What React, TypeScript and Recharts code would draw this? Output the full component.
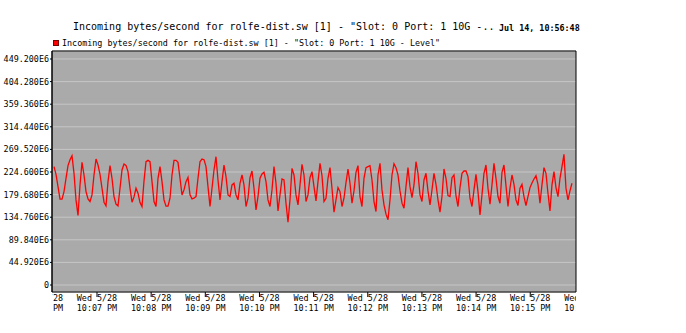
import { LineChart, Line, XAxis, YAxis, CartesianGrid, Legend, ReferenceLine } from 'recharts';

const TITLE = 'Incoming bytes/second for rolfe-dist.sw [1] - "Slot: 0 Port: 1 10G -..';
const STAMP = 'Jul 14, 10:56:48';
const SERIES_NAME = 'Incoming bytes/second for rolfe-dist.sw [1] - "Slot: 0 Port: 1 10G - Level"';
const DAY_LABEL = 'Wed 5/28';

// time axis in seconds after 22:00:00
const FIRST_SAMPLE = 372.37;
const SAMPLE_STEP = 2.2157;
const X_DOMAIN = [370.15, 950.7];
const X_TICKS = [360, 420, 480, 540, 600, 660, 720, 780, 840, 900, 960];

// values in units of 1E6 bytes/second
const Y_DOMAIN = [-13.9, 465.1];
const Y_TICKS = [0, 44.92, 89.84, 134.76, 179.68, 224.6, 269.52, 314.44, 359.36, 404.28, 449.2];

const bytesIn = [
  235.2, 220.0, 195.6, 170.5, 170.5, 185.7, 212.1, 237.2, 249.1, 257.0, 222.0, 169.2, 138.2, 198.9, 243.8, 218.7,
  185.7, 171.2, 165.9, 179.1, 218.7, 250.4, 238.5, 220.0, 192.3, 164.6, 157.3, 205.5, 237.2, 212.1, 175.8, 160.6,
  157.3, 192.3, 228.6, 240.5, 237.8, 225.3, 192.3, 164.6, 175.1, 192.3, 182.4, 163.9, 156.0, 206.8, 245.1, 247.7,
  245.1, 205.5, 165.9, 156.0,
  212.1, 235.2, 205.5, 169.2, 156.7, 156.7, 172.5, 218.7, 247.7, 247.7, 243.8, 212.1, 179.1, 189.0, 205.5, 214.1,
  179.1, 171.2, 172.5, 175.8, 212.1, 245.1, 250.4, 249.1, 235.2, 195.6, 156.0, 192.3, 228.6, 255.0, 208.8, 169.2,
  205.5, 238.5, 215.4, 179.1, 175.8, 198.9, 202.2, 179.1, 169.2, 202.2, 218.7, 198.9, 156.0, 172.5, 213.4, 226.6,
  192.3, 149.4, 175.8, 212.1, 220.7,
  224.0, 205.5, 169.2, 156.0, 189.0, 235.2, 202.2, 147.4, 179.1, 210.8, 208.8, 162.6, 125.0, 169.2, 231.9, 218.7,
  179.1, 159.3, 198.9, 239.8, 218.7, 165.9, 179.1, 213.4, 225.3, 195.6, 167.2, 205.5, 241.8, 217.4, 165.9, 172.5,
  212.1, 233.2, 192.3, 144.8, 169.2, 193.6, 185.7, 156.0, 172.5, 203.5, 230.6, 202.2, 162.6, 187.0, 224.0, 237.2,
  175.8, 156.0, 212.1, 233.2,
  235.2, 237.2, 208.8, 165.9, 146.1, 218.7, 241.8, 189.0, 159.3, 140.8, 129.6, 169.2, 218.7, 241.1, 233.2, 218.7,
  187.0, 162.6, 152.7, 195.6, 233.2, 195.6, 173.8, 198.9, 245.1, 222.0, 179.1, 165.9, 208.8, 222.0, 187.0, 159.3,
  189.0, 222.0, 200.2, 169.2, 144.8, 175.8, 230.6, 212.1, 177.8, 175.8, 213.4, 218.7, 177.8, 156.0, 193.6, 222.0,
  226.6, 226.6, 215.4, 172.5, 156.0,
  189.0, 220.0, 185.7, 139.5, 179.1, 222.0, 238.5, 192.3, 160.6, 198.9, 241.8, 212.1, 175.8, 162.6, 224.0, 238.5,
  197.6, 156.0, 192.3, 218.7, 200.2, 169.2, 158.0, 192.3, 200.2, 175.8, 158.0, 175.8, 193.6, 202.9, 210.8, 217.4,
  200.2, 162.6, 198.9, 233.2, 222.0, 182.4, 147.4, 198.9, 225.3, 193.6, 175.8, 212.1, 235.2, 259.6, 192.3, 169.2,
  187.0, 202.2,
];

const data = bytesIn.map((v, i) => ({ t: FIRST_SAMPLE + i * SAMPLE_STEP, v }));

const W = 686;
const H = 333;
const MARGIN = { top: 51, right: 106, bottom: 0, left: 0 };
const Y_AXIS_W = 52;
const PLOT_LEFT = MARGIN.left + Y_AXIS_W;
const PLOT_RIGHT = W - MARGIN.right - 4;
const MONO = '"DejaVu Sans Mono", "Liberation Mono", monospace';

const fmtY = (v: number) => (v === 0 ? '0' : `${v.toFixed(3)}E6`);

function timeLabel(sec: number) {
  const m = Math.round(sec / 60);
  return `10:${String(m).padStart(2, '0')} PM`;
}

// eslint-disable-next-line @typescript-eslint/no-explicit-any
function TimeTick(props: any) {
  const { x, y, payload, index } = props;
  const id = `xclip-${index}`;
  return (
    <g>
      <defs>
        <clipPath id={id}>
          <rect x={PLOT_LEFT} y={0} width={PLOT_RIGHT - PLOT_LEFT} height={H} />
        </clipPath>
      </defs>
      <g clipPath={`url(#${id})`}>
        <line x1={x} x2={x} y1={y - 2} y2={y + 3} stroke="#000" />
        <text x={x} y={y} textAnchor="middle" fontFamily={MONO} fontSize={8.4} fill="#000">
          <tspan x={x} dy="0.8em">{DAY_LABEL}</tspan>
          <tspan x={x} dy="1.2em">{timeLabel(payload.value)}</tspan>
        </text>
      </g>
    </g>
  );
}

function EmptyTick() {
  return <g />;
}

// eslint-disable-next-line @typescript-eslint/no-explicit-any
function LegendRow({ payload }: any) {
  return (
    <div style={{ display: 'flex', alignItems: 'center', fontFamily: MONO, fontSize: 8.4, lineHeight: '10px', color: '#000' }}>
      {(payload || []).map((p: any) => (
        <span key={p.value} style={{ display: 'flex', alignItems: 'center' }}>
          <span style={{ width: 4, height: 4, background: p.color, border: '1px solid #700', marginRight: 3, marginLeft: 1 }} />
          <span>{p.value}</span>
        </span>
      ))}
    </div>
  );
}

export default function App() {
  return (
    <div style={{ position: 'fixed', left: 0, top: 0, width: W, height: H, background: '#fff' }}>
      <div style={{ position: 'absolute', left: 73, top: 21, fontFamily: MONO, fontSize: 10, lineHeight: '12px', whiteSpace: 'pre', color: '#000' }}>
        {TITLE}
      </div>
      <div style={{ position: 'absolute', left: 499, top: 23, fontFamily: MONO, fontSize: 8.4, lineHeight: '10px', fontWeight: 'bold', whiteSpace: 'pre', color: '#000' }}>
        {STAMP}
      </div>
      <LineChart width={W} height={H} data={data} margin={MARGIN}>
        <CartesianGrid vertical={false} stroke="#c6c6c6" fill="#aaaaaa" fillOpacity={1} />
        <XAxis
          dataKey="t"
          type="number"
          domain={X_DOMAIN}
          ticks={X_TICKS}
          height={41}
          tickSize={0}
          tickLine={false}
          tick={<TimeTick />}
          axisLine={{ stroke: '#000' }}
          interval={0}
        />
        <YAxis
          type="number"
          domain={Y_DOMAIN}
          ticks={Y_TICKS}
          width={Y_AXIS_W}
          tickSize={2}
          tickMargin={1}
          tickFormatter={fmtY}
          tick={{ fill: '#000', fontFamily: MONO, fontSize: 8.4 }}
          tickLine={{ stroke: '#000' }}
          axisLine={{ stroke: '#000', strokeWidth: 1.5 }}
          interval={0}
        />
        <YAxis
          yAxisId="right"
          orientation="right"
          type="number"
          domain={Y_DOMAIN}
          ticks={Y_TICKS}
          width={4}
          tickSize={2}
          tick={<EmptyTick />}
          tickLine={{ stroke: '#000' }}
          axisLine={{ stroke: '#000' }}
          interval={0}
        />
        <ReferenceLine y={Y_DOMAIN[1]} stroke="#000" />
        <Legend
          layout="horizontal"
          verticalAlign="middle"
          align="center"
          wrapperStyle={{ top: 38, left: 52, width: 520 }}
          content={<LegendRow />}
        />
        <Line
          type="linear"
          dataKey="v"
          name={SERIES_NAME}
          stroke="#ff0000"
          strokeWidth={1.3}
          dot={false}
          isAnimationActive={false}
        />
      </LineChart>
    </div>
  );
}
